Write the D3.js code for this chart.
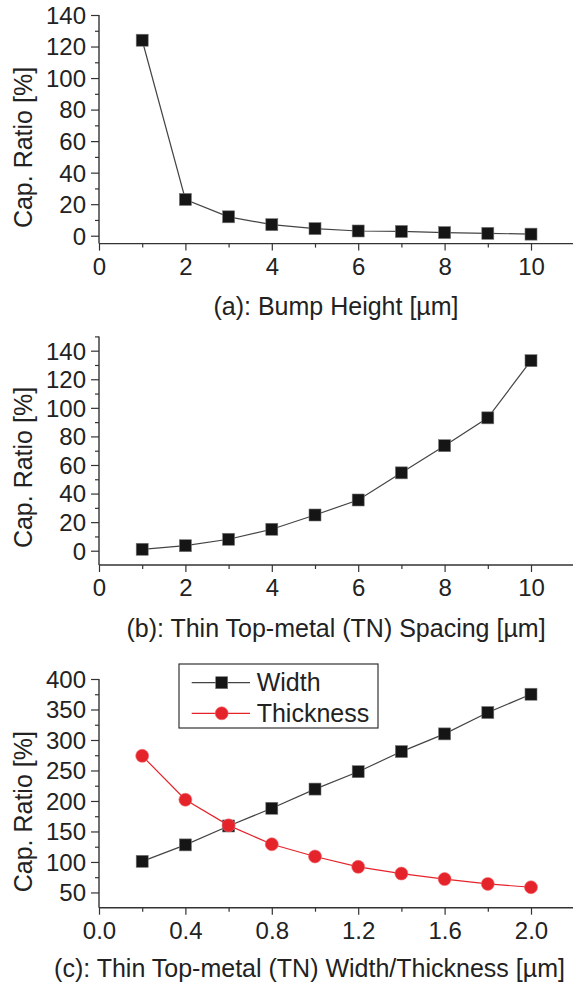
<!DOCTYPE html>
<html>
<head>
<meta charset="utf-8">
<script src="https://cdn.jsdelivr.net/npm/d3@7"></script>
<style>
  html, body { margin: 0; padding: 0; background: #fff; }
  svg { display: block; }
  text { font-family: "Liberation Sans", Arial, sans-serif; fill: #222; }
</style>
</head>
<body>
<svg id="chart" width="573" height="990"></svg>
<script>
// ---- data ----
const bumpHeight = [1, 2, 3, 4, 5, 6, 7, 8, 9, 10];
const capRatioBump = [124, 23, 12, 7, 4.5, 3, 2.7, 2, 1.5, 1];

const tnSpacing = [1, 2, 3, 4, 5, 6, 7, 8, 9, 10];
const capRatioSpacing = [1, 3.5, 8, 15, 25, 35.5, 54.5, 73.5, 93, 133];

const tnSize = [0.2, 0.4, 0.6, 0.8, 1.0, 1.2, 1.4, 1.6, 1.8, 2.0];
const capRatioWidth = [101, 128, 159, 188, 219.5, 248, 281, 310, 345, 375];
const capRatioThickness = [274, 202, 160, 129, 109, 92, 81, 72, 64, 58.5];

const seriesNames = ["Width", "Thickness"];

const xTicksAB = [0, 2, 4, 6, 8, 10];
const xMinorAB = [1, 3, 5, 7, 9];
const yTicksAB = [0, 20, 40, 60, 80, 100, 120, 140];
const yMinorA = [10, 30, 50, 70, 90, 110, 130];
const yMinorB = [10, 30, 50, 70, 90, 110, 130, 150];
const xTicksC = [0.0, 0.4, 0.8, 1.2, 1.6, 2.0];
const xMinorC = [0.2, 0.6, 1.0, 1.4, 1.8];
const yTicksC = [50, 100, 150, 200, 250, 300, 350, 400];
const yMinorC = [75, 125, 175, 225, 275, 325, 375];

const yTitle = "Cap. Ratio [%]";
const xTitles = [
  "(a): Bump Height [\u00b5m]",
  "(b): Thin Top-metal (TN) Spacing [\u00b5m]",
  "(c): Thin Top-metal (TN) Width/Thickness [\u00b5m]"
];

// ---- drawing ----
const svg = d3.select("#chart");
const AX = "#333";
const LINE_BLACK = "#444";
const RED = "#e5232b";
const MARK_BLACK = "#151515";
const FONT = "'Liberation Sans', Arial, sans-serif";

function drawPanel(p) {
  const g = svg.append("g");
  const x = d3.scaleLinear().domain(p.xDomain).range([99, 531]);
  const y = d3.scaleLinear().domain(p.yDomain).range(p.yRange);
  const x0 = 99, yBottom = p.yRange[0], yTop = p.yRange[1];

  // minor ticks
  const xMinorAxis = d3.axisBottom(x).tickValues(p.xMinor).tickSize(4).tickFormat("");
  const yMinorAxis = d3.axisLeft(y).tickValues(p.yMinor).tickSize(4).tickFormat("");
  g.append("g").attr("transform", `translate(0,${yBottom})`).call(xMinorAxis);
  g.append("g").attr("transform", `translate(${x0},0)`).call(yMinorAxis);

  // major ticks + labels
  const xAxis = d3.axisBottom(x).tickValues(p.xTicks).tickSize(7).tickPadding(6)
    .tickFormat(p.xFormat);
  const yAxis = d3.axisLeft(y).tickValues(p.yTicks).tickSize(8).tickPadding(5)
    .tickFormat(d3.format("d"));
  const gx = g.append("g").attr("transform", `translate(0,${yBottom})`).call(xAxis);
  const gy = g.append("g").attr("transform", `translate(${x0},0)`).call(yAxis);

  g.selectAll(".domain").remove();
  g.selectAll(".tick line").attr("stroke", AX).attr("stroke-width", 1.2);
  gx.selectAll("text").attr("font-size", 24).attr("dy", null).attr("y", 31)
    .style("font-family", FONT).attr("fill", "#222");
  gy.selectAll("text").attr("font-size", 24).attr("dy", "0.35em")
    .style("font-family", FONT).attr("fill", "#222");

  // axis lines (x axis runs off the right edge)
  g.append("line").attr("x1", x0).attr("x2", 580).attr("y1", yBottom).attr("y2", yBottom)
    .attr("stroke", AX).attr("stroke-width", 1.4);
  g.append("line").attr("x1", x0).attr("x2", x0).attr("y1", yTop).attr("y2", yBottom)
    .attr("stroke", AX).attr("stroke-width", 1.4);

  // titles
  g.append("text").attr("x", p.titleX).attr("y", p.titleY).attr("text-anchor", "middle")
    .attr("font-size", 25).text(p.xTitle);
  g.append("text").attr("transform", `translate(31.5,${p.yTitleC}) rotate(-90)`)
    .attr("text-anchor", "middle").attr("font-size", 25).text(yTitle);

  // series
  p.series.forEach(s => {
    const pts = p.xs.map((v, i) => [x(v), y(s.values[i])]);
    g.append("path").datum(pts)
      .attr("d", d3.line())
      .attr("fill", "none").attr("stroke", s.lineColor).attr("stroke-width", 1.2);
    if (s.shape === "square") {
      g.selectAll(null).data(pts).enter().append("rect")
        .attr("x", d => d[0] - 6).attr("y", d => d[1] - 6)
        .attr("width", 12).attr("height", 12)
        .attr("fill", MARK_BLACK).attr("stroke", "#777").attr("stroke-width", 0.6);
    } else {
      g.selectAll(null).data(pts).enter().append("circle")
        .attr("cx", d => d[0]).attr("cy", d => d[1]).attr("r", 6.5)
        .attr("fill", RED).attr("stroke", "#f26a6f").attr("stroke-width", 0.6);
    }
  });
  return { x, y, g };
}

drawPanel({
  xDomain: [0, 10], yDomain: [-5, 140], yRange: [243.6, 15],
  xTicks: xTicksAB, xMinor: xMinorAB, yTicks: yTicksAB, yMinor: yMinorA,
  xFormat: d3.format("d"),
  xTitle: xTitles[0], titleX: 336, titleY: 315, yTitleC: 147.5,
  xs: bumpHeight,
  series: [{ values: capRatioBump, shape: "square", lineColor: LINE_BLACK }]
});

drawPanel({
  xDomain: [0, 10], yDomain: [-10, 150], yRange: [565, 336.4],
  xTicks: xTicksAB, xMinor: xMinorAB, yTicks: yTicksAB, yMinor: yMinorB,
  xFormat: d3.format("d"),
  xTitle: xTitles[1], titleX: 336, titleY: 637, yTitleC: 467.5,
  xs: tnSpacing,
  series: [{ values: capRatioSpacing, shape: "square", lineColor: LINE_BLACK }]
});

drawPanel({
  xDomain: [0, 2], yDomain: [25, 400], yRange: [907.7, 679],
  xTicks: xTicksC, xMinor: xMinorC, yTicks: yTicksC, yMinor: yMinorC,
  xFormat: d3.format(".1f"),
  xTitle: xTitles[2], titleX: 309.5, titleY: 977, yTitleC: 811.7,
  xs: tnSize,
  series: [
    { values: capRatioWidth, shape: "square", lineColor: LINE_BLACK },
    { values: capRatioThickness, shape: "circle", lineColor: RED }
  ]
});

// legend for panel (c)
const lg = svg.append("g").attr("transform", "translate(179,664)");
lg.append("rect").attr("width", 199).attr("height", 64)
  .attr("fill", "#fff").attr("stroke", "#333").attr("stroke-width", 1.2);
const legendItems = seriesNames.map((name, i) => ({
  name, shape: i === 0 ? "square" : "circle", color: i === 0 ? LINE_BLACK : RED
}));
legendItems.forEach((it, i) => {
  const cy = 18.7 + i * 30.6;
  lg.append("line").attr("x1", 12.7).attr("x2", 71).attr("y1", cy).attr("y2", cy)
    .attr("stroke", it.color).attr("stroke-width", 1.2);
  if (it.shape === "square") {
    lg.append("rect").attr("x", 42.7 - 6).attr("y", cy - 6).attr("width", 12).attr("height", 12)
      .attr("fill", MARK_BLACK).attr("stroke", "#777").attr("stroke-width", 0.6);
  } else {
    lg.append("circle").attr("cx", 42.7).attr("cy", cy).attr("r", 6.5)
      .attr("fill", RED).attr("stroke", "#f26a6f").attr("stroke-width", 0.6);
  }
  lg.append("text").attr("x", 77.7).attr("y", cy).attr("dy", "0.35em")
    .attr("font-size", 25).text(it.name);
});
</script>
</body>
</html>
